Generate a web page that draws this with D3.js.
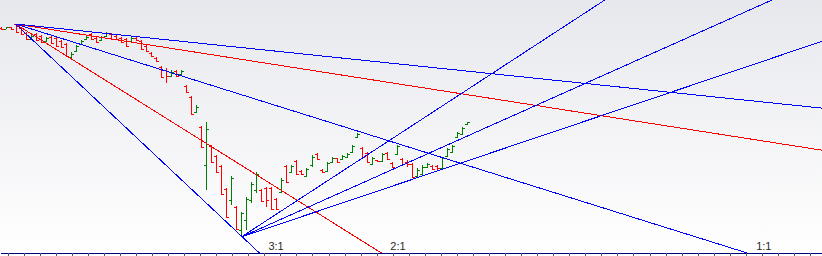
<!DOCTYPE html>
<html>
<head>
<meta charset="utf-8">
<script src="https://cdn.jsdelivr.net/npm/d3@7"></script>
<style>
  body { margin: 0; padding: 0; background: #fff; }
  svg { display: block; }
</style>
</head>
<body>
<script>
// bar data, one entry per session
var highs  = [229,229,229,232,229,224,221,223,221,219,220,219,216,213,204,211,216,220,223,219,220,224,223,221,219,218,219,219,216,211,204,199,190,188,186,186,186,171,160,151,130,134,111,101,91,68,80,50,44,59,74,84,67,69,69,58,78,91,91,96,86,88,101,103,87,94,99,98,101,103,111,123,109,104,99,96,103,104,94,111,98,96,93,88,91,93,91,91,99,108,111,124,129,134];
var lows   = [226,227,226,223,221,216,216,215,213,214,212,209,208,199,198,204,211,216,216,213,215,219,216,216,213,209,214,215,206,204,199,194,178,173,179,179,181,163,141,143,108,66,93,83,61,38,51,26,19,26,53,63,54,49,46,46,63,73,83,81,81,79,89,96,83,84,93,93,96,98,103,118,98,93,91,94,94,96,88,101,91,89,78,79,81,88,86,86,86,99,103,118,121,131];
var opens  = [228,227,229,232,228,223,217,222,220,215,219,218,215,212,199,205,212,217,222,218,216,220,222,220,218,217,215,218,215,210,203,198,189,186,180,185,182,170,159,144,129,91,110,100,90,67,56,49,26,36,56,66,66,68,68,57,64,90,84,95,85,80,91,102,86,85,94,98,97,99,104,119,108,103,92,96,95,103,93,102,97,94,92,80,82,89,90,90,88,100,104,119,122,132];
var closes = [227,229,227,224,222,217,220,216,214,218,213,210,209,200,202,210,215,219,217,214,219,223,217,217,214,210,218,216,207,205,200,195,179,180,184,180,185,164,142,149,109,127,94,84,62,39,78,27,43,57,72,82,55,56,47,47,76,74,90,82,82,87,99,97,84,93,98,94,100,102,110,122,99,94,98,95,102,97,89,110,92,92,79,86,89,92,87,88,98,107,110,123,128,134];

// fan from the top: anchor bar, anchor price, slope per bar for each ratio
var topAnchor = [3, 232];
var topUnit = 1.57;
var topRatios = [3, 2, 1, 0.5, 1/3];
var topNames = ["3:1", "2:1", "1:1", "1:2", "1:3"];
var topColors = ["#0000ff", "#ff0000", "#0000ff", "#ff0000", "#0000ff"];

// fan from the low
var lowAnchor = [48, 19];
var lowSlopes = [3.27, 2.24, 1.69];

var W = 822, H = 256, axisY = 253;

var svg = d3.select("body").append("svg")
  .attr("width", W)
  .attr("height", H);

var defs = svg.append("defs");
var grad = defs.append("linearGradient")
  .attr("id", "bg")
  .attr("x1", 0).attr("y1", 0).attr("x2", 0).attr("y2", 1);
grad.append("stop").attr("offset", "0%").attr("stop-color", "#e7e8ed");
grad.append("stop").attr("offset", "100%").attr("stop-color", "#ffffff");
defs.append("clipPath").attr("id", "plot")
  .append("rect").attr("x", 0).attr("y", 0).attr("width", W).attr("height", axisY);

svg.append("rect").attr("width", W).attr("height", H).attr("fill", "url(#bg)");

var x = d3.scaleLinear().domain([0, highs.length - 1]).range([0.5, 467]);
var y = d3.scaleLinear().domain([0, 256]).range([256, 0]);

var bars = highs.map(function(h, i){
  return {i: i, h: h, l: lows[i], o: opens[i], c: closes[i]};
});

var g = svg.append("g").attr("clip-path", "url(#plot)");

var bar = g.selectAll("g.bar")
  .data(bars)
  .enter()
  .append("g")
  .attr("class", "bar")
  .attr("stroke", function(d){ return d.c >= d.o ? "#008000" : "#ff0000"; })
  .attr("shape-rendering", "crispEdges");
bar.append("line")
  .attr("x1", function(d){ return Math.round(x(d.i)) + 0.5; })
  .attr("x2", function(d){ return Math.round(x(d.i)) + 0.5; })
  .attr("y1", function(d){ return y(d.h); })
  .attr("y2", function(d){ return y(d.l); });
bar.append("line")
  .attr("x1", function(d){ return Math.round(x(d.i)) - 2; })
  .attr("x2", function(d){ return Math.round(x(d.i)); })
  .attr("y1", function(d){ return Math.round(y(d.o)) + 0.5; })
  .attr("y2", function(d){ return Math.round(y(d.o)) + 0.5; });
bar.append("line")
  .attr("x1", function(d){ return Math.round(x(d.i)) + 1; })
  .attr("x2", function(d){ return Math.round(x(d.i)) + 3; })
  .attr("y1", function(d){ return Math.round(y(d.c)) + 0.5; })
  .attr("y2", function(d){ return Math.round(y(d.c)) + 0.5; });

var iEnd = x.invert(W + 10);
var pBottom = y.invert(axisY);

var topLines = topRatios.map(function(r, k){
  return {slope: -r * topUnit, color: topColors[k], name: topNames[k]};
});
var lowLines = lowSlopes.map(function(s){
  return {slope: s, color: "#0000ff", name: null};
});

function drawFan(anchor, lines){
  g.selectAll(null)
    .data(lines)
    .enter()
    .append("line")
    .attr("x1", x(anchor[0]))
    .attr("y1", y(anchor[1]))
    .attr("x2", x(iEnd))
    .attr("y2", function(d){ return y(anchor[1] + d.slope * (iEnd - anchor[0])); })
    .attr("stroke", function(d){ return d.color; })
    .attr("stroke-width", 1)
    .attr("shape-rendering", "crispEdges");
}
drawFan(topAnchor, topLines);
drawFan(lowAnchor, lowLines);

// ratio labels where the top fan meets the bottom
svg.selectAll("text.ratio")
  .data(topLines.filter(function(d){
    var iHit = topAnchor[0] + (pBottom - topAnchor[1]) / d.slope;
    return x(iHit) < W - 20;
  }))
  .enter()
  .append("text")
  .attr("class", "ratio")
  .attr("x", function(d){
    var iHit = topAnchor[0] + (pBottom - topAnchor[1]) / d.slope;
    return x(iHit) + 9;
  })
  .attr("y", 250)
  .attr("font-family", "Liberation Sans, Arial, sans-serif")
  .attr("font-size", 11)
  .attr("fill", "#2a2a2a")
  .text(function(d){ return d.name; });

// time axis
var xAxisScale = d3.scaleLinear().domain([x.invert(0), x.invert(W)]).range([0, W]);
var tickBars = d3.range(x.invert(7.5), x.invert(W), 16.05 / (x(1) - x(0)));
var axis = svg.append("g")
  .attr("transform", "translate(0," + axisY + ")")
  .attr("shape-rendering", "crispEdges")
  .call(d3.axisBottom(xAxisScale).tickValues(tickBars).tickFormat("").tickSize(3).tickSizeOuter(0));
axis.select(".domain").attr("stroke", "#000080");
axis.selectAll(".tick line").attr("stroke", "#555");
</script>
</body>
</html>
